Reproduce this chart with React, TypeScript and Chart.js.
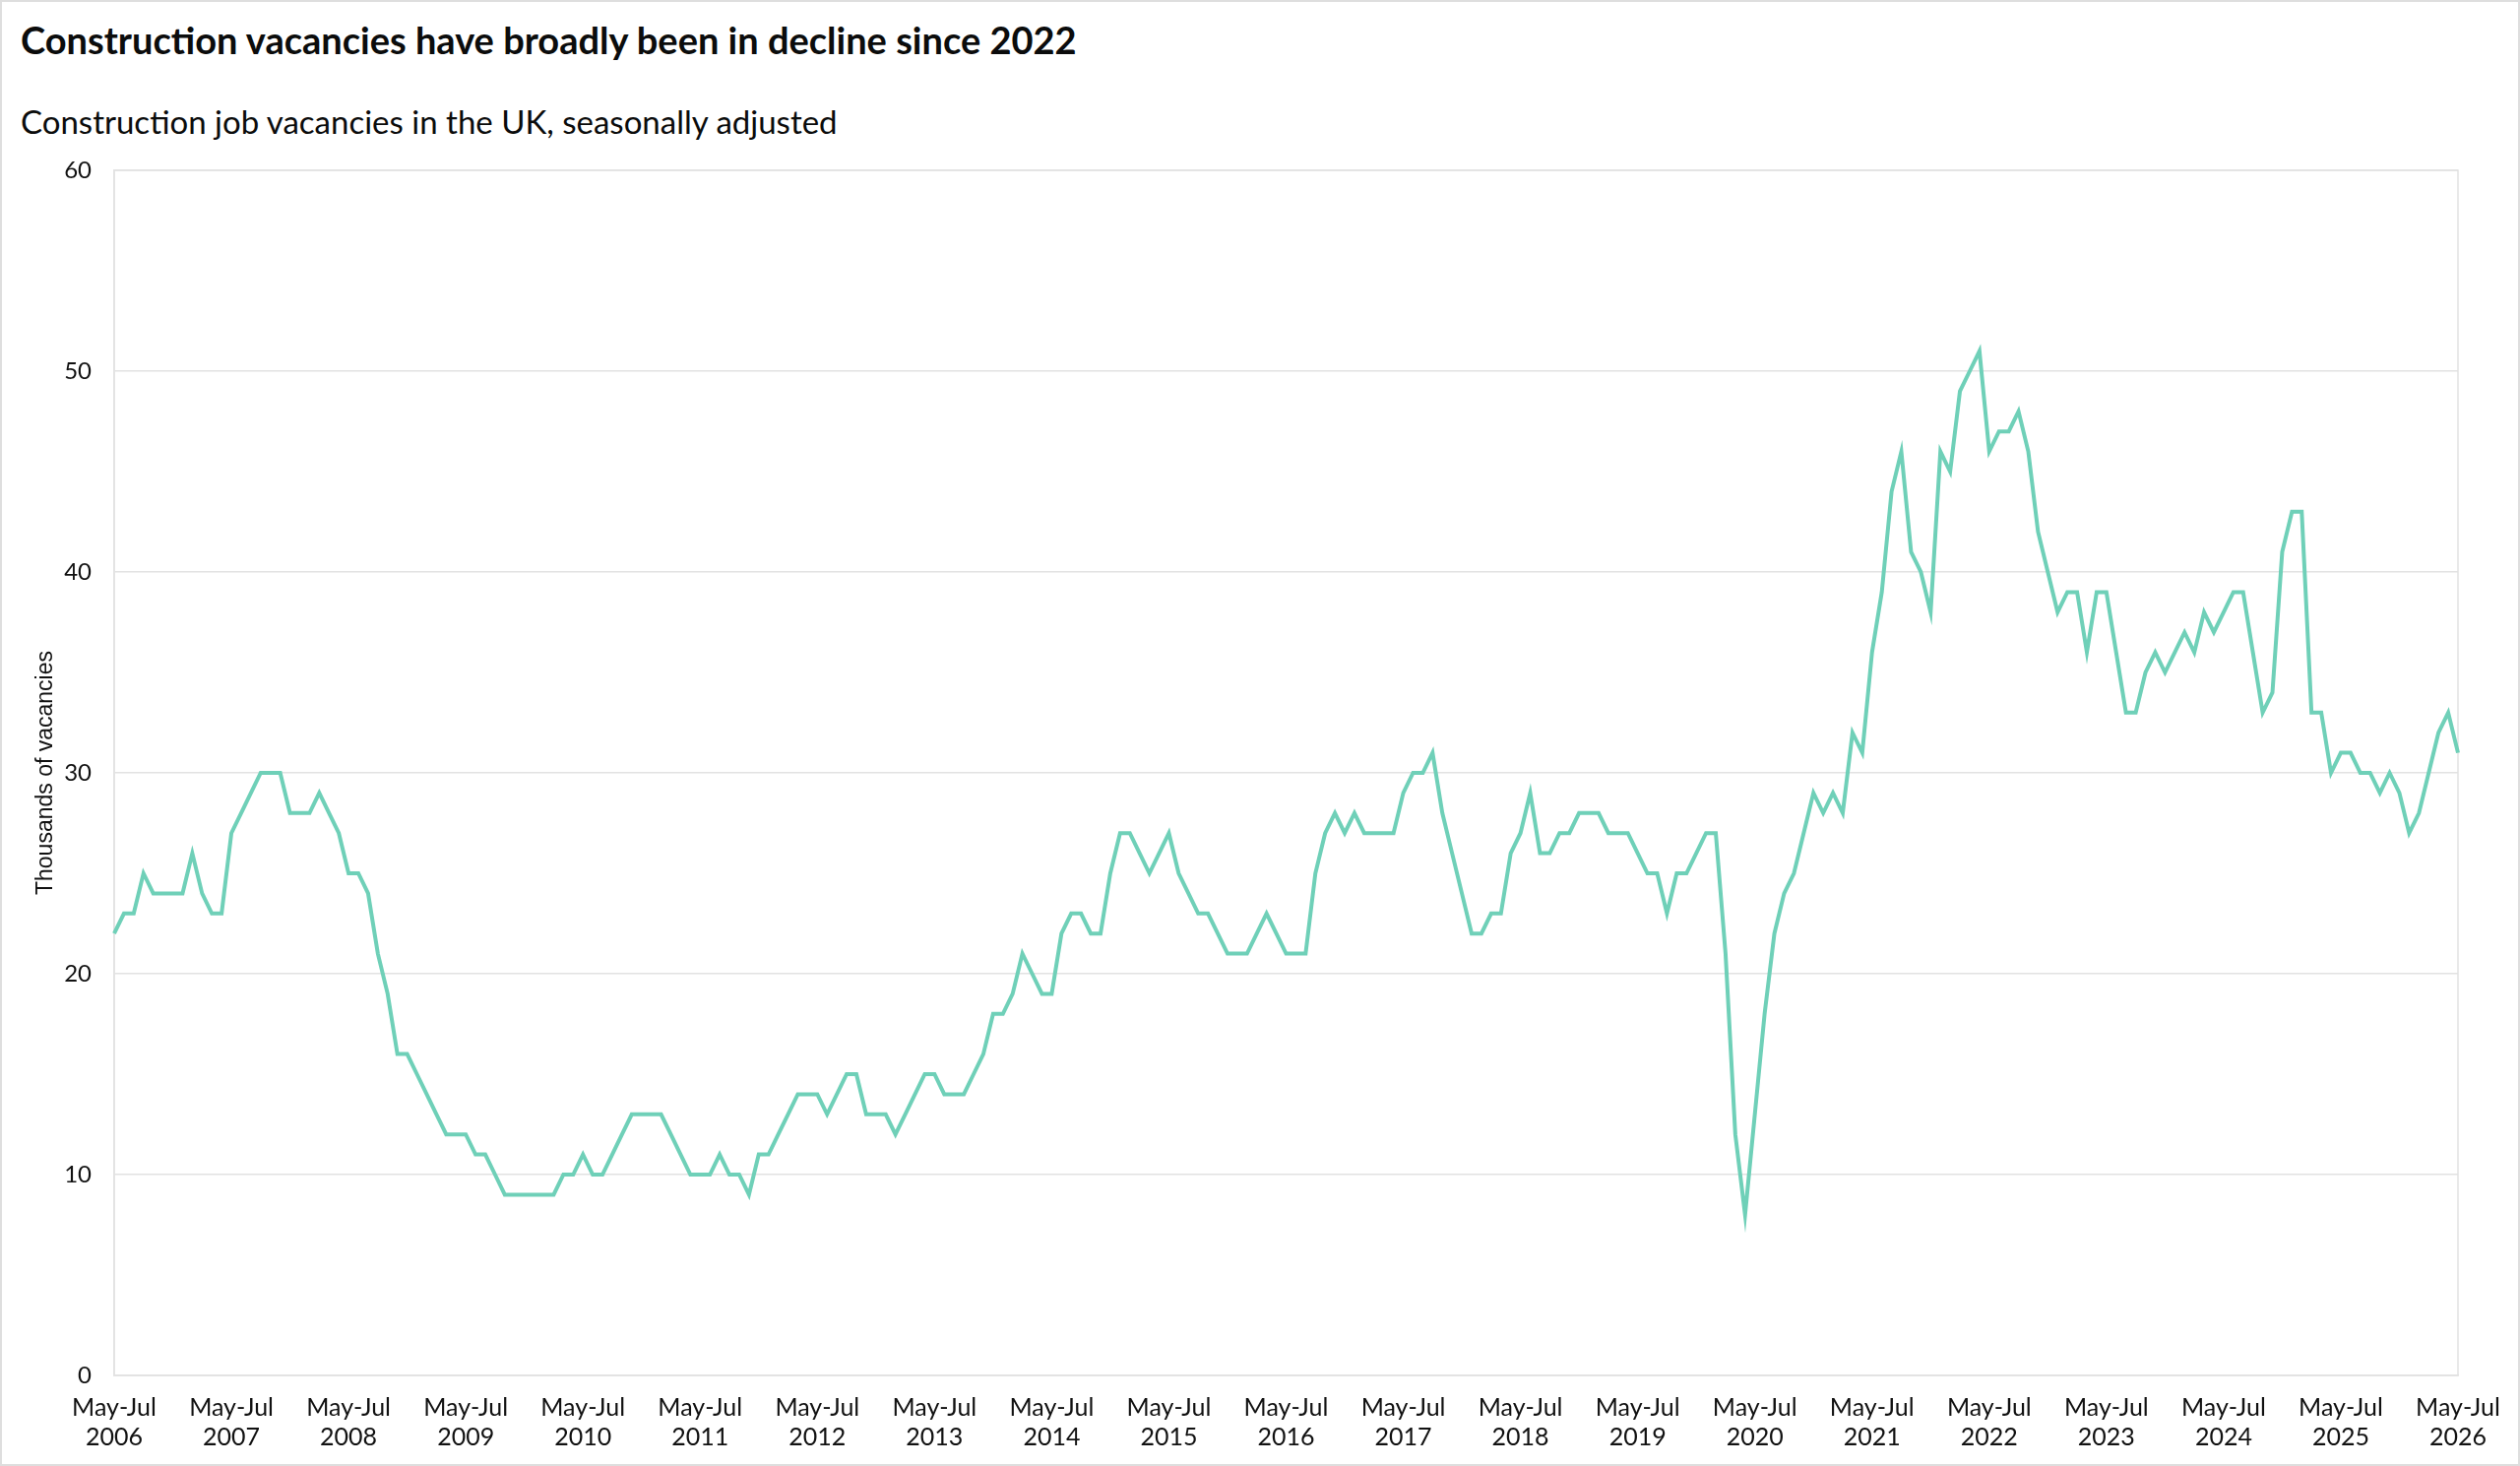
import React, { useEffect, useRef } from 'react';
import Chart from 'chart.js/auto';

// Construction job vacancies in the UK (thousands), rolling three-month periods
// starting May-Jul 2006 and ending May-Jul 2026
const vacancies2006to2011: number[] = [
  22, 23, 23, 25, 24, 24, 24, 24, 26, 24, 23, 23, // 2006
  27, 28, 29, 30, 30, 30, 28, 28, 28, 29, 28, 27, // 2007
  25, 25, 24, 21, 19, 16, 16, 15, 14, 13, 12, 12, // 2008
  12, 11, 11, 10, 9, 9, 9, 9, 9, 9, 10, 10, // 2009
  11, 10, 10, 11, 12, 13, 13, 13, 13, 12, 11, 10, // 2010
];
const vacancies2011to2016: number[] = [
  10, 10, 11, 10, 10, 9, 11, 11, 12, 13, 14, 14, // 2011
  14, 13, 14, 15, 15, 13, 13, 13, 12, 13, 14, 15, // 2012
  15, 14, 14, 14, 15, 16, 18, 18, 19, 21, 20, 19, // 2013
  19, 22, 23, 23, 22, 22, 25, 27, 27, 26, 25, 26, // 2014
  27, 25, 24, 23, 23, 22, 21, 21, 21, 22, 23, 22, // 2015
];
const vacancies2016to2021: number[] = [
  21, 21, 21, 25, 27, 28, 27, 28, 27, 27, 27, 27, // 2016
  29, 30, 30, 31, 28, 26, 24, 22, 22, 23, 23, 26, // 2017
  27, 29, 26, 26, 27, 27, 28, 28, 28, 27, 27, 27, // 2018
  26, 25, 25, 23, 25, 25, 26, 27, 27, 21, 12, 8, // 2019
  13, 18, 22, 24, 25, 27, 29, 28, 29, 28, 32, 31, // 2020
];
const vacancies2021to2026: number[] = [
  36, 39, 44, 46, 41, 40, 38, 46, 45, 49, 50, 51, // 2021
  46, 47, 47, 48, 46, 42, 40, 38, 39, 39, 36, 39, // 2022
  39, 36, 33, 33, 35, 36, 35, 36, 37, 36, 38, 37, // 2023
  38, 39, 39, 36, 33, 34, 41, 43, 43, 33, 33, 30, // 2024
  31, 31, 30, 30, 29, 30, 29, 27, 28, 30, 32, 33, // 2025
  31, // 2026
];
const vacancies: number[] = [
  ...vacancies2006to2011,
  ...vacancies2011to2016,
  ...vacancies2016to2021,
  ...vacancies2021to2026,
];

const monthNames = ['Jan', 'Feb', 'Mar', 'Apr', 'May', 'Jun', 'Jul', 'Aug', 'Sep', 'Oct', 'Nov', 'Dec'];
const firstYear = 2006;
const tickPeriod = 'May-Jul';
const yTicks = [0, 10, 20, 30, 40, 50, 60];

// category labels, e.g. "May-Jul 2006", "Jun-Aug 2006", ...
const periods: string[] = vacancies.map((_, i) => {
  const start = monthNames[(4 + i) % 12];
  const end = monthNames[(6 + i) % 12];
  return `${start}-${end} ${firstYear + Math.floor((6 + i) / 12)}`;
});

const lineColor = '#6fd0b8';
const gridColor = '#e2e2e2';

const areaBorder = {
  id: 'areaBorder',
  beforeDatasetsDraw(chart: any) {
    const { ctx, chartArea } = chart;
    ctx.save();
    ctx.strokeStyle = gridColor;
    ctx.lineWidth = 1.5;
    ctx.strokeRect(chartArea.left, chartArea.top, chartArea.right - chartArea.left, chartArea.bottom - chartArea.top);
    ctx.restore();
  },
};

function VacancyChart() {
  const canvasRef = useRef<HTMLCanvasElement>(null);

  useEffect(() => {
    const canvas = canvasRef.current;
    if (!canvas) return;
    const chart = new Chart(canvas, {
      type: 'line',
      data: {
        labels: periods,
        datasets: [
          {
            data: vacancies,
            borderColor: lineColor,
            backgroundColor: lineColor,
            borderWidth: 4,
            pointRadius: 0,
            tension: 0,
          },
        ],
      },
      options: {
        animation: false,
        responsive: true,
        maintainAspectRatio: false,
        layout: { padding: { top: 23, right: 63, bottom: 0, left: 0 } },
        plugins: {
          legend: { display: false },
          tooltip: { enabled: false },
        },
        scales: {
          x: {
            grid: { display: false, drawTicks: false },
            border: { color: gridColor, width: 1.5 },
            afterFit: (scale: any) => {
              scale.height = 92;
            },
            ticks: {
              autoSkip: false,
              maxRotation: 0,
              minRotation: 0,
              padding: 18,
              color: '#111',
              font: { family: 'Lato', size: 25, lineHeight: 1.2 },
              callback: (_value: any, index: number) =>
                index % 12 === 0 ? [tickPeriod, String(firstYear + index / 12)] : null,
            },
          },
          y: {
            min: 0,
            max: 60,
            afterBuildTicks: (scale: any) => {
              scale.ticks = yTicks.map((v) => ({ value: v }));
            },
            afterFit: (scale: any) => {
              scale.width = 116;
              scale.paddingTop = 0;
              scale.paddingBottom = 0;
            },
            grid: { color: gridColor, lineWidth: 1.5, drawTicks: false },
            border: { color: gridColor, width: 1.5 },
            ticks: {
              padding: 23,
              color: '#111',
              font: { family: 'Lato', size: 24 },
            },
            title: {
              display: true,
              text: 'Thousands of vacancies',
              color: '#111',
              padding: { top: 33, bottom: 0 },
              font: { family: 'Liberation Sans', size: 23, lineHeight: 1.2 },
            },
          },
        },
      },
      plugins: [areaBorder],
    });
    return () => {
      chart.destroy();
    };
  }, []);

  return <canvas ref={canvasRef} />;
}

export default function App() {
  return (
    <div
      style={{
        position: 'absolute',
        left: 0,
        top: 0,
        width: 2560,
        height: 1489,
        boxSizing: 'border-box',
        border: '2px solid #dedede',
        background: '#fff',
        overflow: 'hidden',
      }}
    >
      <div
        style={{
          position: 'absolute',
          left: 19,
          top: 19,
          fontFamily: 'Lato',
          fontWeight: 700,
          fontSize: 38,
          lineHeight: '38px',
          color: '#0b0c0c',
          whiteSpace: 'nowrap',
        }}
      >
        Construction vacancies have broadly been in decline since 2022
      </div>
      <div
        style={{
          position: 'absolute',
          left: 19,
          top: 105,
          fontFamily: 'Lato',
          fontSize: 33,
          lineHeight: '33px',
          color: '#0b0c0c',
          whiteSpace: 'nowrap',
        }}
      >
        Construction job vacancies in the UK, seasonally adjusted
      </div>
      <div style={{ position: 'absolute', left: -2, top: 148, width: 2560, height: 1339 }}>
        <VacancyChart />
      </div>
    </div>
  );
}
